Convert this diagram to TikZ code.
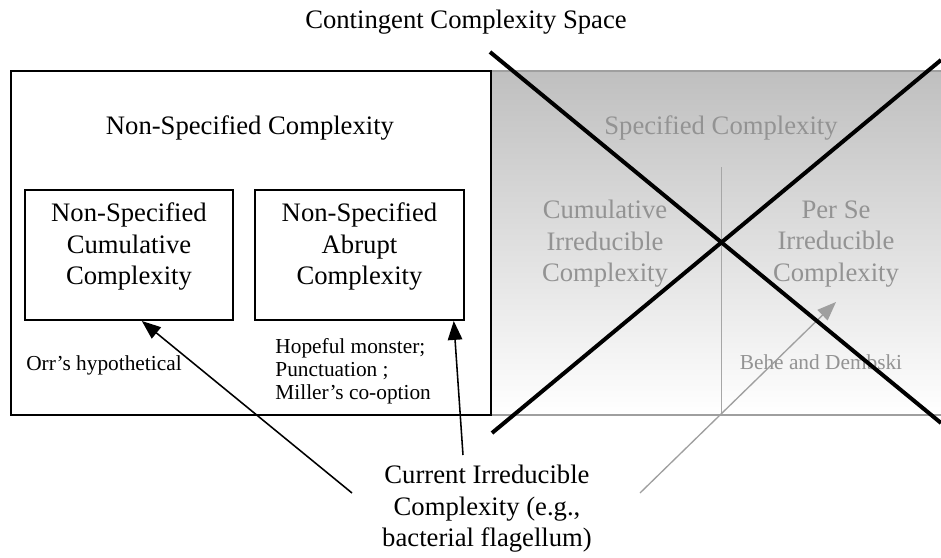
\documentclass[tikz,border=0pt]{standalone}
\usepackage{fontspec}
\setmainfont{Liberation Serif}
\usetikzlibrary{arrows.meta}
\begin{document}
\begin{tikzpicture}[x=.45pt,y=-.45pt,
		every node/.style={inner sep=0pt,align=center,font=\fontsize{12}{14.2}\selectfont},
		nsbox/.style={draw,line width=.9pt,minimum width=93.6pt,minimum height=58.5pt},
		smalltxt/.style={font=\fontsize{9.6}{10.4}\selectfont},
		faded/.style={text=gray!85},
		arr/.style={-{Triangle[length=8.5pt,width=6.5pt]},line width=.7pt}]
				\useasboundingbox (0,0) rectangle (941,558);
				% specified side
				\shade[top color=gray!50,middle color=gray!33,bottom color=white] (491,71) rectangle (941,415);
				\draw[gray!75,line width=.7pt] (491,71) -- (941,71) (491,415) -- (941,415);
				\draw[gray!70,line width=.45pt] (721,167) -- (721,415);
				% non-specified side
				\draw[line width=.9pt] (11,71) rectangle (491,415);
				\node (space) at (466,22) {Contingent Complexity Space};
				\node (nonspec) at (250,128) {Non-Specified Complexity};
				\node[nsbox] (nscc) at (129,255) {};
				\node[nsbox] (nsac) at (359.5,255) {};
				\node[anchor=north] (nscctxt) at ([yshift=-6pt]nscc.north)
					{Non-Specified\\Cumulative\\Complexity};
				\node[anchor=north] (nsactxt) at ([yshift=-6pt]nsac.north)
					{Non-Specified\\Abrupt\\Complexity};
				\node[smalltxt] (orr) at (104,365) {Orr’s hypothetical};
				\node[smalltxt,align=left,anchor=north west] (hope) at (275,338)
					{Hopeful monster;\\Punctuation ;\\Miller’s co-option};
				\node[faded] (spec) at (721,128) {Specified Complexity};
				\node[faded] (cumirr) at (605,244) {Cumulative\\Irreducible\\Complexity};
				\node[faded] (perse) at (836,244) {Per Se\\Irreducible\\Complexity};
				\node[faded,smalltxt] (behe) at (821,362) {Behe and Dembski};
				\node (cic) at (487,509) {Current Irreducible\\Complexity (e.g.,\\bacterial flagellum)};
				% arrows
				\coordinate (orrfrom) at (352,493);
				\coordinate (hopefrom) at (463,455);
				\coordinate (behefrom) at (640,493);
				\coordinate (beheto) at (836,302);
				\draw[arr] (orrfrom) -- (nscc.-79);
				\draw[arr] (hopefrom) -- (nsac.-35);
				\draw[arr,gray!75,line width=.6pt] (behefrom) -- (beheto);
				% crossed out
				\draw[line width=1.8pt] (490,52) -- (941,423);
				\draw[line width=1.8pt] (492,433) -- (941,60);
			\end{tikzpicture}
\end{document}
